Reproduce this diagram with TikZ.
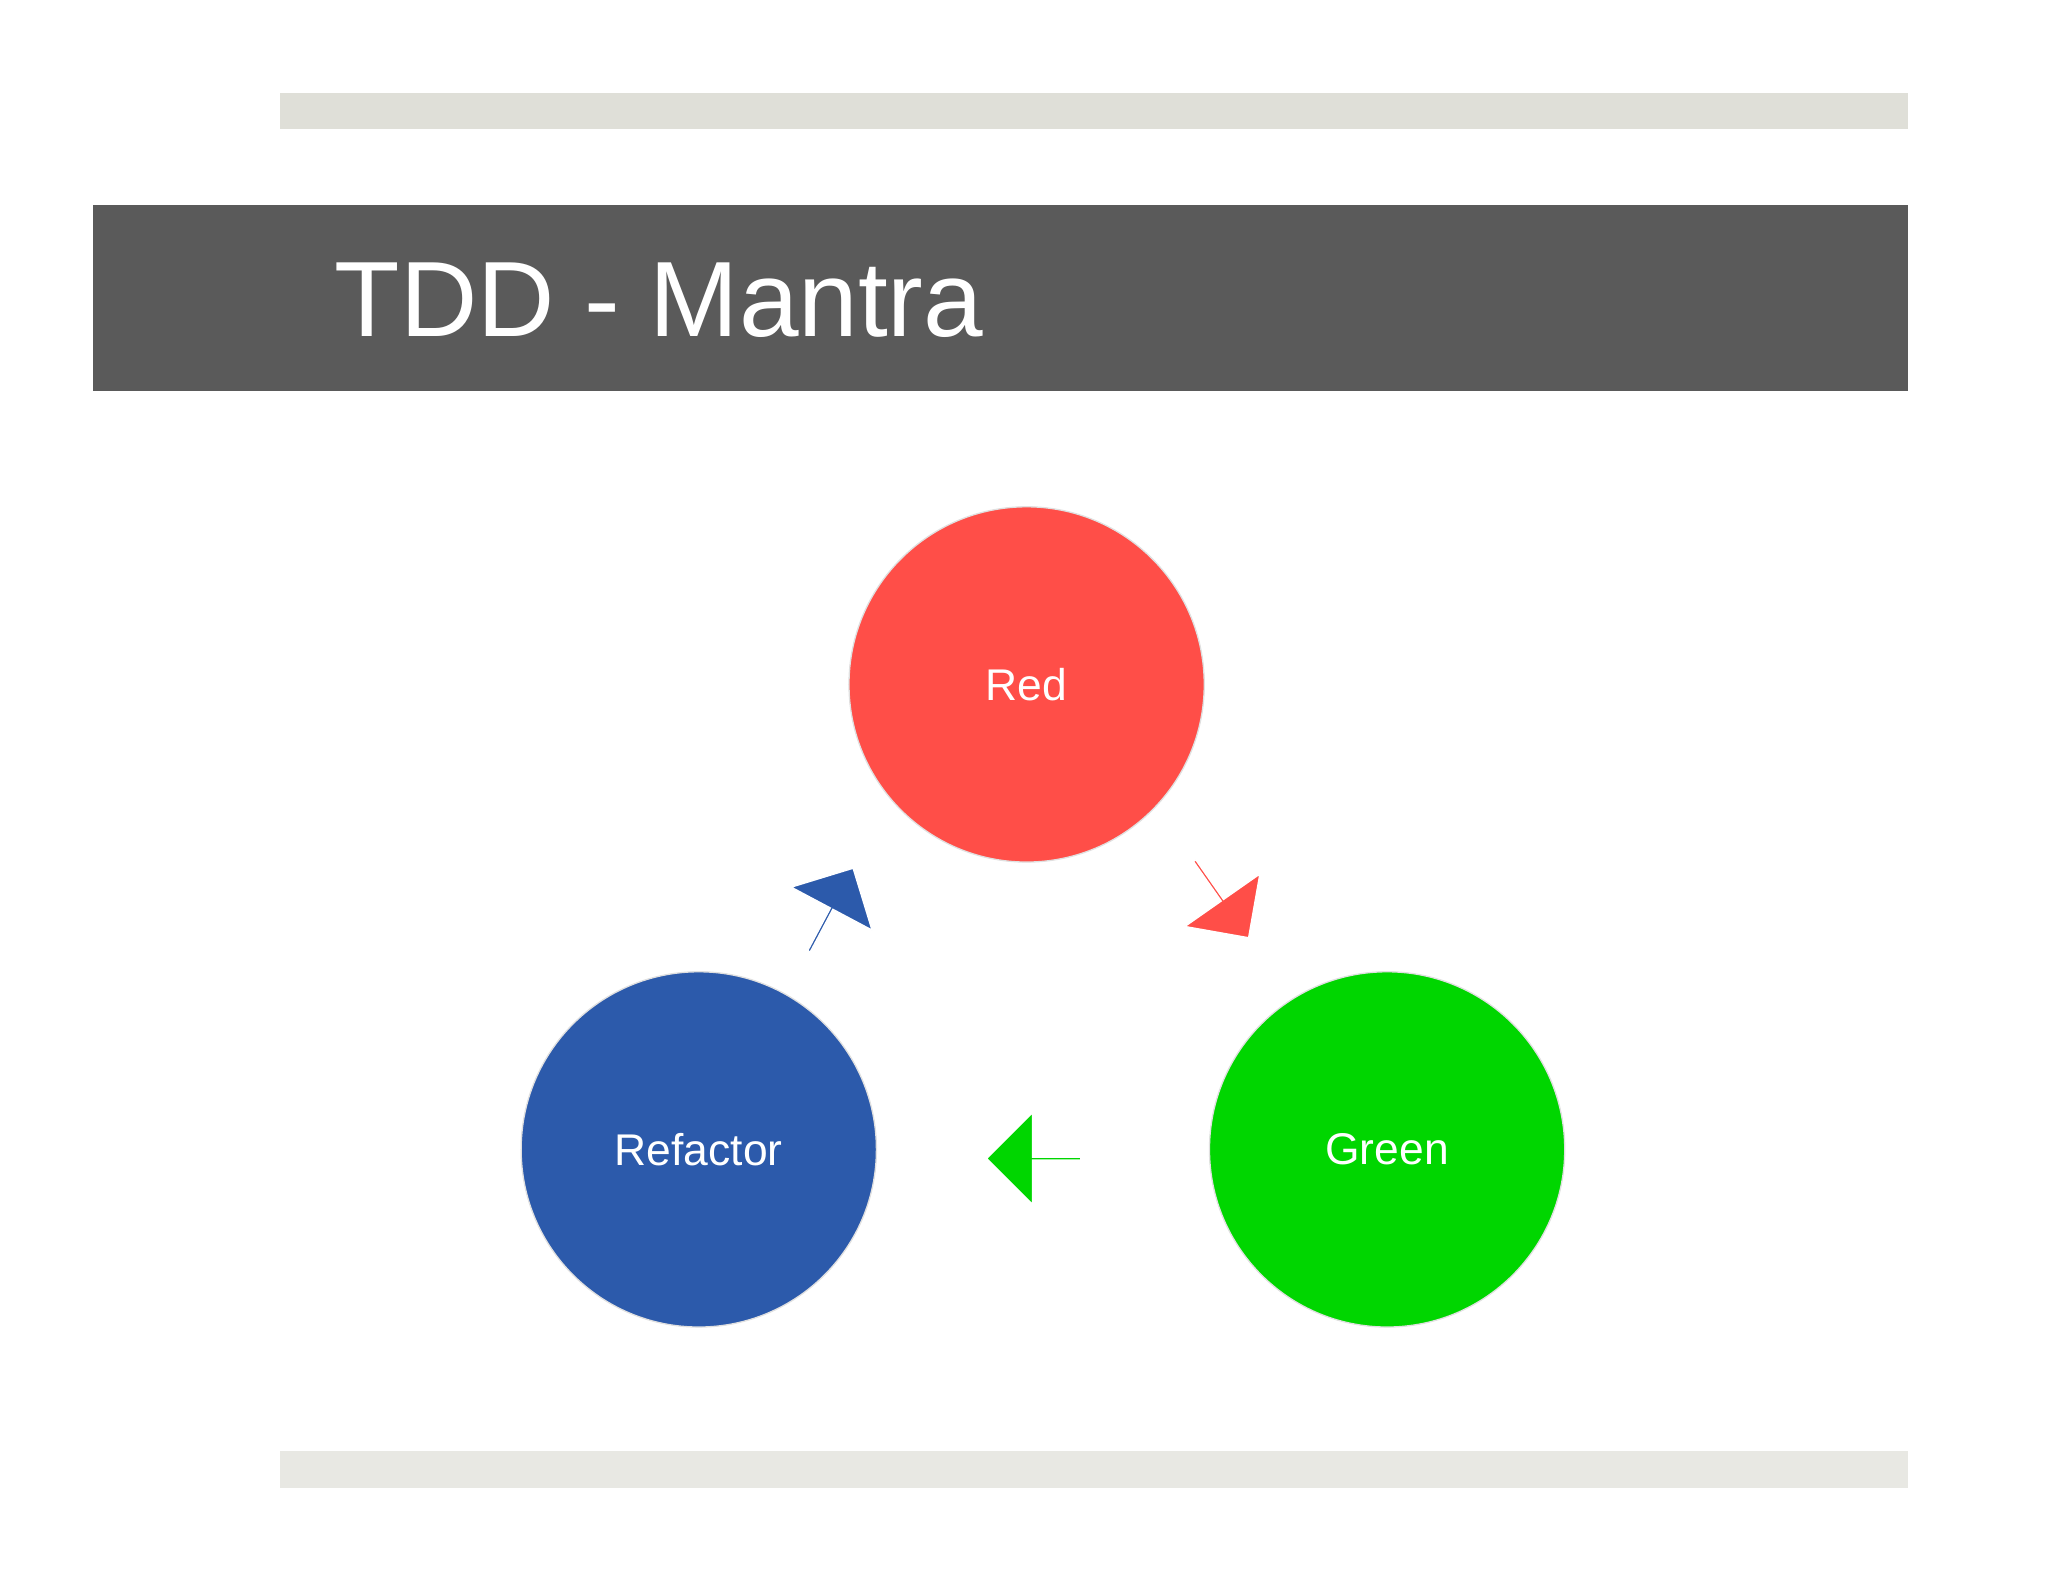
\documentclass[tikz,border=0pt]{standalone}
\usepackage{fontspec}
\setmainfont{Liberation Sans}
\usetikzlibrary{shapes.arrows}
\definecolor{barA}{HTML}{DFDFD8}
\definecolor{barB}{HTML}{E8E8E3}
\definecolor{band}{HTML}{5A5A5A}
\definecolor{cred}{HTML}{FF4E48}
\definecolor{cblue}{HTML}{2C5AAB}
\definecolor{cgreen}{HTML}{00D600}
\begin{document}
\begin{tikzpicture}[x=1pt,y=-1pt,
  circ/.style={circle,minimum size=272pt,inner sep=0pt,draw=black!12,line width=1pt,text=white,font=\fontsize{34}{40}\selectfont},
  blk/.style={single arrow,minimum height=72pt,minimum width=70pt,single arrow head extend=16pt,inner sep=0pt,draw=white,line width=1pt}]
\useasboundingbox (0,0) rectangle (1568,1211);
\fill[white] (0,0) rectangle (1568,1211);
\fill[barA] (214,71) rectangle (1461,99);
\fill[band] (71,157) rectangle (1461,299);
\node[anchor=base west,text=white,font=\fontsize{82}{90}\selectfont,inner sep=0pt] (title) at (256,258) {TDD - Mantra};
\fill[barB] (214,1111) rectangle (1461,1139);
\node[circ,fill=cred] (red) at (786,524) {Red};
\node[circ,fill=cblue] (ref) at (535,880) {Refactor};
\node[circ,fill=cgreen] (green) at (1062,880) {Green};
\node[blk,fill=cblue,rotate=62] (a1) at (636,697) {};
\node[blk,fill=cred,rotate=-55] (a2) at (935,688) {};
\node[blk,fill=cgreen,rotate=180] (a3) at (792,887) {};
\end{tikzpicture}
\end{document}
